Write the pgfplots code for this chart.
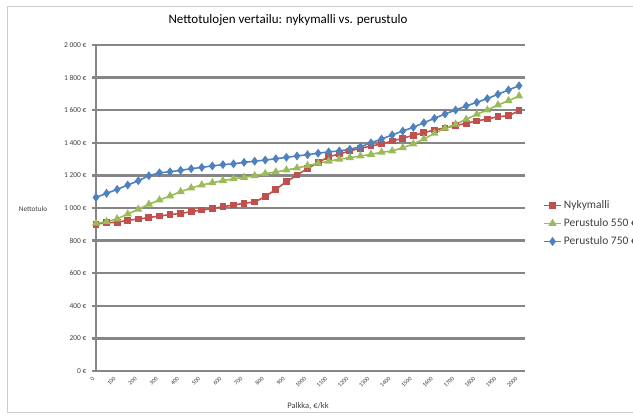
\documentclass[border=0pt]{standalone}
\usepackage{fontspec}
\setmainfont{Carlito}
\usepackage{pgfplots}
\pgfplotsset{compat=1.18}
\definecolor{nyky}{HTML}{C0504D}
\definecolor{pt550}{HTML}{9BBB59}
\definecolor{pt750}{HTML}{4F81BD}
\definecolor{gridgray}{HTML}{868686}
\definecolor{txt}{HTML}{404040}

\pgfplotstableread{
palkka nyky pt550 pt750
0    900  906 1065
50   910  916 1090
100  912  933 1114
150  925  963 1141
200  932  992 1167
250  941 1023 1198
300  951 1049 1216
350  959 1074 1222
400  967 1100 1231
450  977 1123 1241
500  988 1141 1249
550  996 1155 1258
600 1008 1168 1266
650 1018 1179 1271
700 1029 1188 1280
750 1037 1198 1287
800 1069 1211 1294
850 1115 1221 1302
900 1161 1233 1311
950 1202 1245 1319
1000 1243 1260 1327
1050 1278 1274 1336
1100 1315 1287 1344
1150 1331 1299 1350
1200 1350 1309 1360
1250 1366 1319 1376
1300 1380 1329 1400
1350 1393 1342 1423
1400 1411 1350 1448
1450 1428 1370 1472
1500 1446 1393 1495
1550 1462 1423 1523
1600 1479 1458 1550
1650 1491 1489 1577
1700 1505 1514 1601
1750 1520 1544 1626
1800 1534 1575 1648
1850 1546 1601 1671
1900 1560 1632 1698
1950 1566 1658 1724
2000 1597 1687 1750
}\tulot

\begin{document}
\begin{tikzpicture}[x=1pt,y=1pt]
\useasboundingbox (0,0) rectangle (633,417);
% outer chart frame
\draw[gray!40, line width=0.8pt] (645,411) -- (7,411) -- (7,5) -- (645,5);
\node[text=black, font=\fontsize{13}{15}\selectfont] at (288,397) {Nettotulojen vertailu: nykymalli vs. perustulo};
\node[text=txt, font=\fontsize{7.2}{8}\selectfont] at (33,208) {Nettotulo};
\node[text=txt, font=\fontsize{8.5}{9}\selectfont] at (308,11) {Palkka, €/kk};

\begin{axis}[
  at={(96pt,46pt)}, anchor=south west,
  scale only axis, width=429pt, height=326pt,
  xmin=0, xmax=2028, ymin=0, ymax=2000,
  axis x line=bottom, axis y line=left,
  axis line style={-, draw=gridgray, line width=2.5pt},
  ytick={0,200,...,2000},
  yticklabels={0 €,200 €,400 €,600 €,800 €,1 000 €,1 200 €,1 400 €,1 600 €,1 800 €,2 000 €},
  xtick={0,100,...,2000},
  ymajorgrids, major grid style={gridgray, line width=2.5pt},
  tick align=outside, major tick length=4pt,
  ytick style={gridgray, line width=2.5pt},
  xtick style={draw=none},
  /pgf/number format/assume math mode=true,
  /pgf/number format/1000 sep={},
  xticklabel style={rotate=45, anchor=east, text=txt, font=\fontsize{6}{7}\selectfont},
  yticklabel style={text=txt, xshift=-2pt, font=\fontsize{7.5}{8}\selectfont},
  clip=false,
  legend style={at={(1.035,0.535)}, anchor=north west, draw=none, fill=none,
    font=\fontsize{11.5}{12}\selectfont, text=txt, row sep=4.5pt,
    cells={anchor=west}},
  every axis plot/.append style={line width=1.6pt},
]
\addplot[nyky, mark=square*, mark size=2.6pt] table[x=palkka, y=nyky] {\tulot};
\addlegendentry{Nykymalli}
\addplot[pt550, mark=triangle*, mark size=3.2pt] table[x=palkka, y=pt550] {\tulot};
\addlegendentry{Perustulo 550 €}
\addplot[pt750, mark=diamond*, mark size=3.2pt] table[x=palkka, y=pt750] {\tulot};
\addlegendentry{Perustulo 750 €}
\end{axis}
\end{tikzpicture}
\end{document}
